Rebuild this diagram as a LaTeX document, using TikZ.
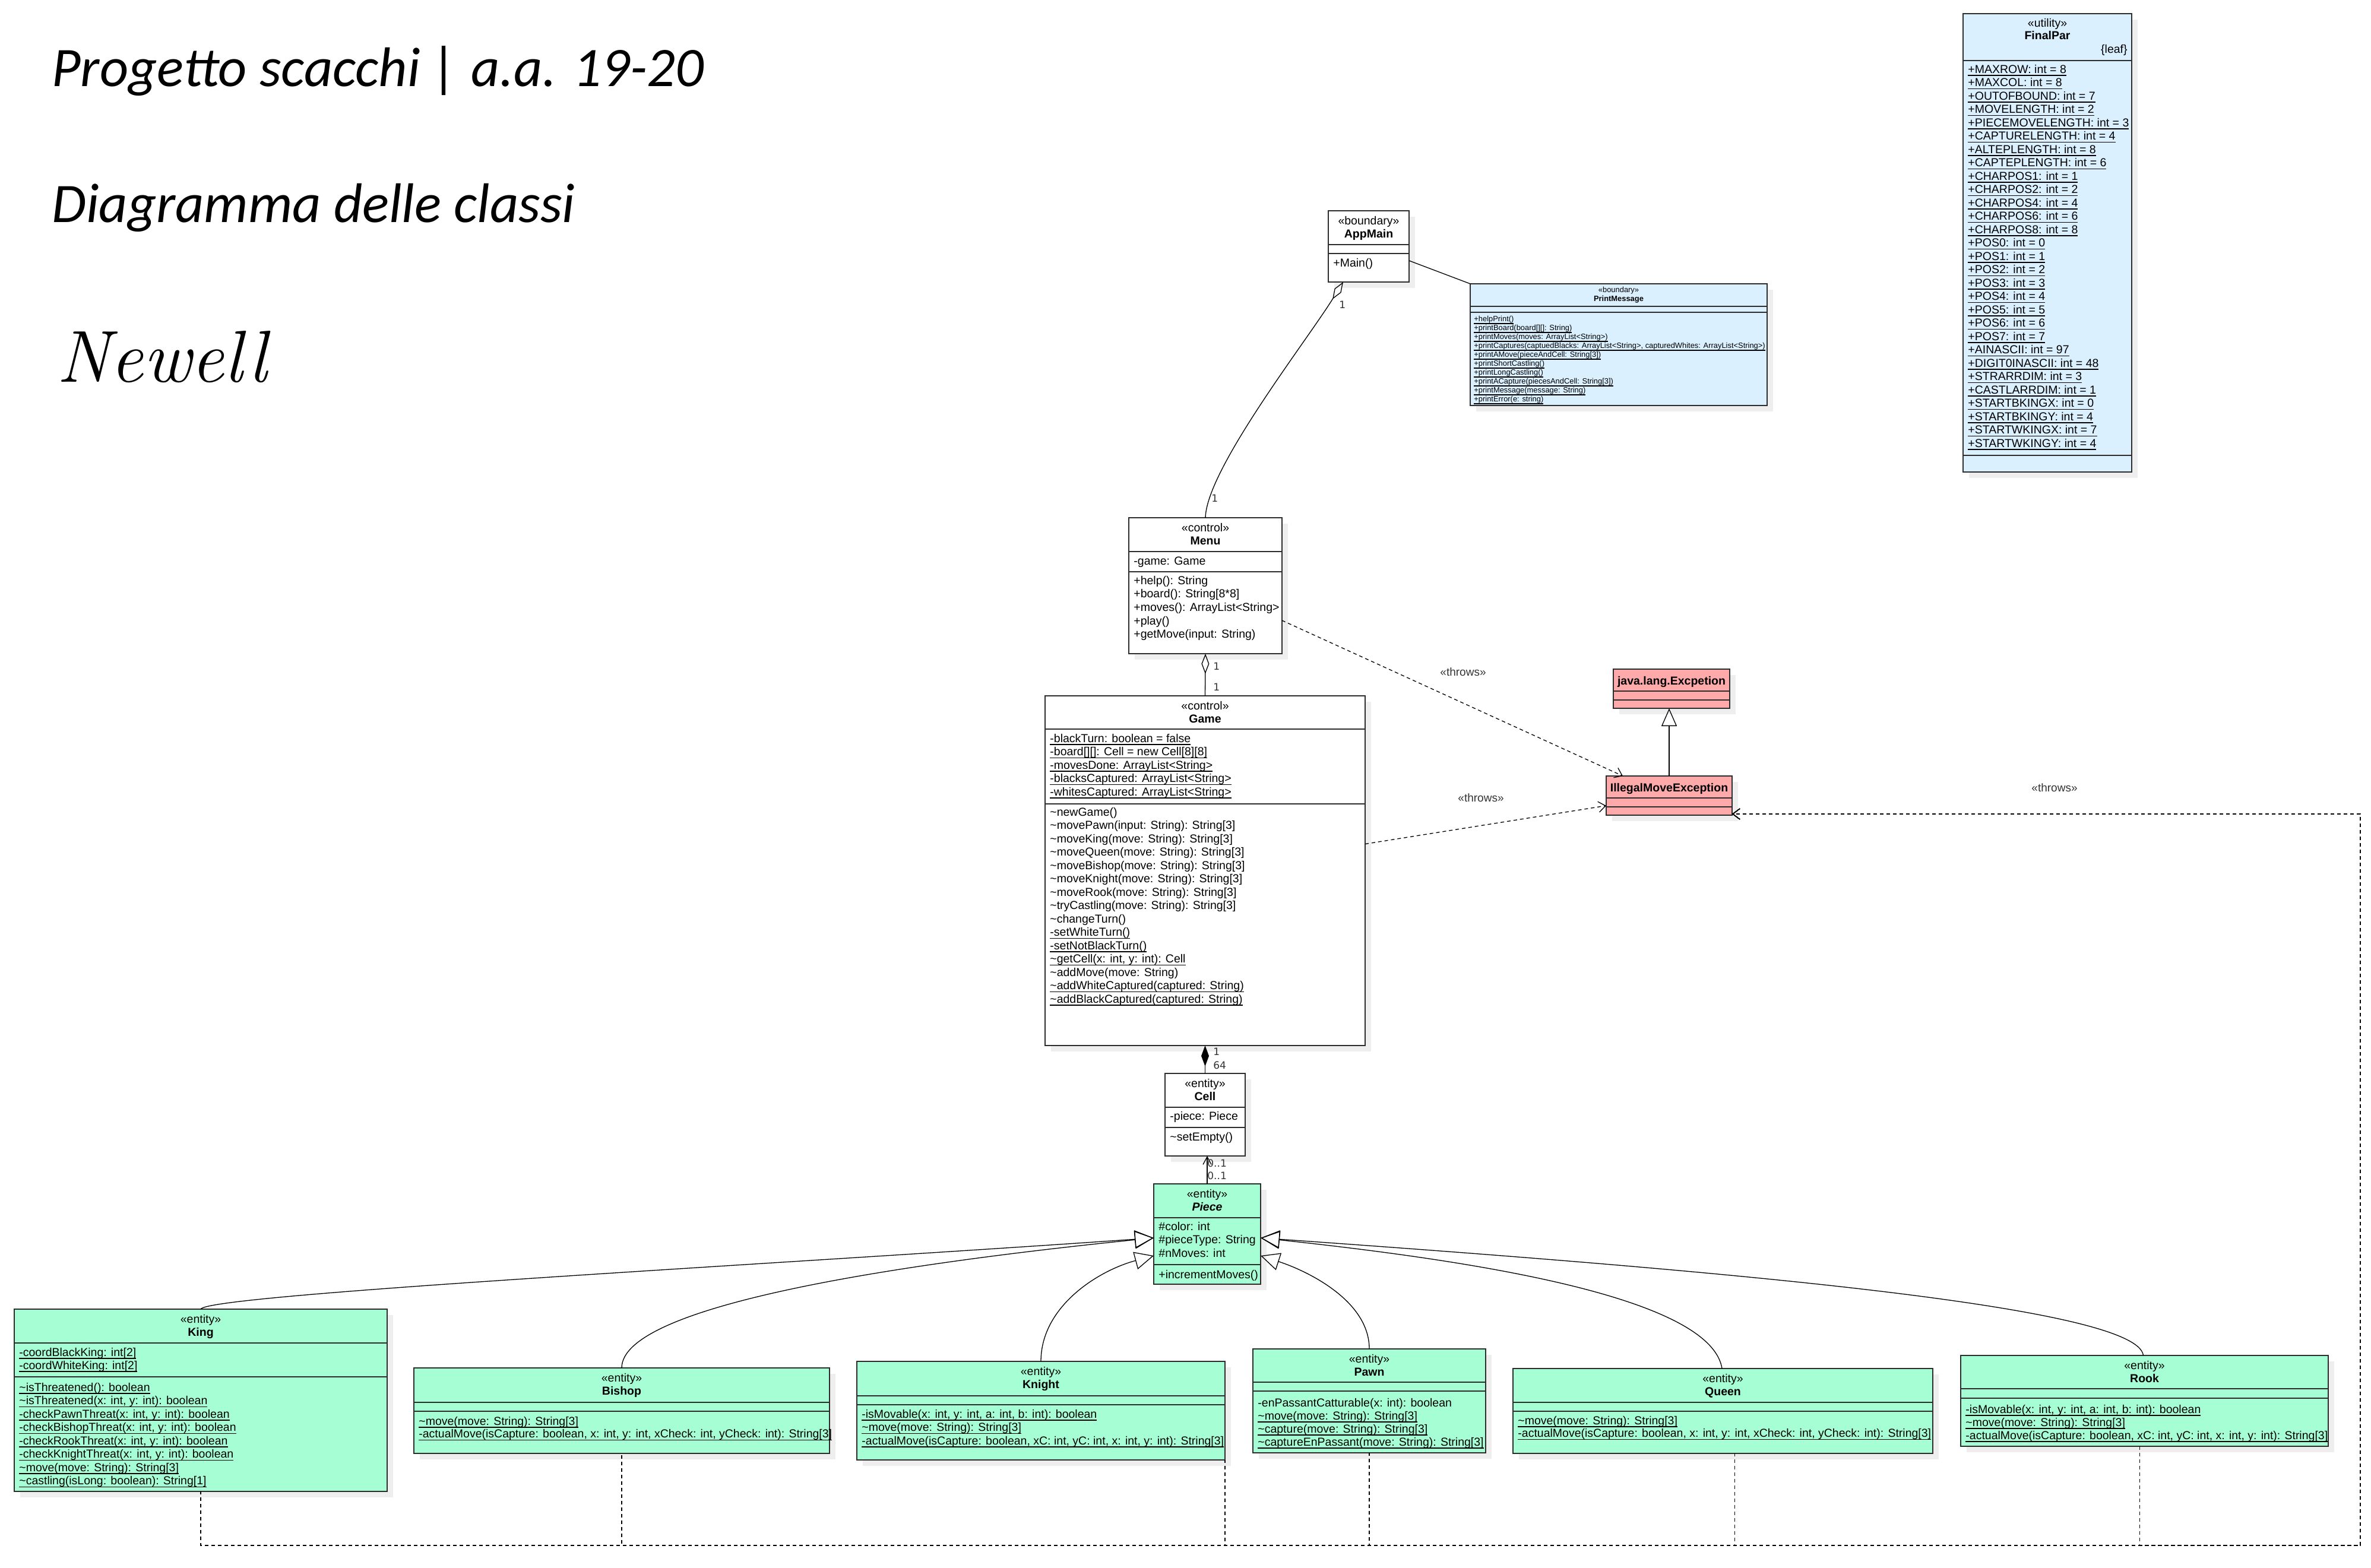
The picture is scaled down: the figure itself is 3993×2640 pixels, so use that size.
\documentclass[tikz,border=0pt]{standalone}
\usepackage{fontspec}
\usetikzlibrary{arrows.meta,calc}
\newfontfamily\lib{Liberation Sans}
\newfontfamily\dejavu{DejaVu Sans}
\newfontfamily\carl{Carlito}
\definecolor{entc}{RGB}{166,255,212}
\definecolor{bndc}{RGB}{218,240,255}
\definecolor{excc}{RGB}{255,170,170}
\definecolor{boxc}{RGB}{45,45,45}
\definecolor{shdc}{RGB}{238,238,238}
\newcommand\tld{\textasciitilde}
\newcommand\ulx[1]{\setbox0\hbox{#1}\rlap{\rule[-2.3pt]{\wd0}{0.6pt}}\box0}
\newcommand\umlbox[8]{%
  \fill[shdc] (#2+10,#3+10) rectangle ++(#4,#5);
  \node[box, fill=#6, minimum width=#4*0.5pt, minimum height=#5*0.5pt, anchor=north west] (#1) at (#2,#3) {};
  \draw[box] (#2,#7) -- ++(#4,0);
  \draw[box] (#2,#8) -- ++(#4,0);}
\newcommand\hdr[3]{%
  \node[stereo] (#1st) at ($(#1.north)+(0,23)$) {#2};
  \node[cname] (#1nm) at ($(#1.north)+(0,45)$) {#3};}
\newcommand\rowlist[6]{\foreach \ri [count=\ci from 0] in {#6}{\node[#1, anchor=base west] (#2\ci) at (#3,{#4+#5*\ci}) {\ri};}}
\begin{document}
\begin{tikzpicture}[x=0.5pt,y=-0.5pt,
  box/.style={draw=boxc, line width=0.9pt, inner sep=0pt, outer sep=0pt},
  rowtxt/.style={font=\lib\fontsize{9.75}{11.25}\selectfont, inner sep=0pt, text=black},
  smalltxt/.style={font=\lib\fontsize{6.45}{7.5}\selectfont, inner sep=0pt},
  stereo/.style={rowtxt, anchor=base},
  cname/.style={font=\lib\bfseries\fontsize{9.75}{11.25}\selectfont, inner sep=0pt, anchor=base},
  mult/.style={font=\dejavu\fontsize{8.5}{10}\selectfont, inner sep=0pt, anchor=base west, text=black!80},
  thr/.style={font=\lib\fontsize{9.5}{11}\selectfont, inner sep=0pt, anchor=base, text=black!80},
  conn/.style={line width=0.65pt, draw=black},
  dep/.style={conn, dash pattern=on 3pt off 2.5pt, -{Straight Barb[length=6pt,width=9pt]}},
  gen/.style={conn, -{Triangle[open,length=16pt,width=15pt]}},
  title/.style={font=\carl\itshape\fontsize{47}{50}\selectfont, inner sep=0pt, anchor=base west}]
\useasboundingbox (0,0) rectangle (3993,2640);
\fill[white] (0,0) rectangle (3993,2640);

% titles
\node[title] (t1) at (87,145) {Progetto scacchi | a.a. 19-20};
\node[title] (t2) at (87,374) {Diagramma delle classi};
\node[font=\normalfont\itshape\fontsize{62}{66}\selectfont, inner sep=0pt, anchor=base west] (t3) at (95,643) {Newell};

% AppMain
\umlbox{appmain}{2237}{355}{136}{120}{white}{412}{427}
\hdr{appmain}{«boundary»}{AppMain}
\rowlist{rowtxt}{appmainM}{2245}{449}{22.5}{+Main()}

% PrintMessage
\umlbox{printmsg}{2476}{478}{500}{205}{bndc}{516}{526}
\node[smalltxt, anchor=base] (printmsgst) at ($(printmsg.north)+(0,14)$) {«boundary»};
\node[smalltxt, font=\lib\bfseries\fontsize{6.45}{7.5}\selectfont, anchor=base] (printmsgnm) at ($(printmsg.north)+(0,29)$) {PrintMessage};
\rowlist{smalltxt}{printmsgM}{2482}{541}{15}{\ulx{+helpPrint()},\ulx{+printBoard(board[][]: String)},\ulx{+printMoves(moves: ArrayList<String>)},\ulx{+printCaptures(captuedBlacks: ArrayList<String>, capturedWhites: ArrayList<String>)},\ulx{+printAMove(pieceAndCell: String[3])},\ulx{+printShortCastling()},\ulx{+printLongCastling()},\ulx{+printACapture(piecesAndCell: String[3])},\ulx{+printMessage(message: String)},\ulx{+printError(e: string)}}

% FinalPar
\umlbox{finalpar}{3306}{23}{284}{772}{bndc}{102}{767}
\node[stereo] (finalparst) at ($(finalpar.north)+(0,22)$) {«utility»};
\node[cname] (finalparnm) at ($(finalpar.north)+(0,43)$) {FinalPar};
\node[rowtxt, anchor=base east] (finalparleaf) at (3583,89) {\{leaf\}};
\rowlist{rowtxt}{finalparA}{3314}{123}{22.5}{\ulx{+MAXROW: int = 8},\ulx{+MAXCOL: int = 8},\ulx{+OUTOFBOUND: int = 7},\ulx{+MOVELENGTH: int = 2},\ulx{+PIECEMOVELENGTH: int = 3},\ulx{+CAPTURELENGTH: int = 4},\ulx{+ALTEPLENGTH: int = 8},\ulx{+CAPTEPLENGTH: int = 6},\ulx{+CHARPOS1: int = 1},\ulx{+CHARPOS2: int = 2},\ulx{+CHARPOS4: int = 4},\ulx{+CHARPOS6: int = 6},\ulx{+CHARPOS8: int = 8},\ulx{+POS0: int = 0},\ulx{+POS1: int = 1},\ulx{+POS2: int = 2},\ulx{+POS3: int = 3},\ulx{+POS4: int = 4},\ulx{+POS5: int = 5},\ulx{+POS6: int = 6},\ulx{+POS7: int = 7},\ulx{+AINASCII: int = 97},\ulx{+DIGIT0INASCII: int = 48},\ulx{+STRARRDIM: int = 3},\ulx{+CASTLARRDIM: int = 1},\ulx{+STARTBKINGX: int = 0},\ulx{+STARTBKINGY: int = 4},\ulx{+STARTWKINGX: int = 7},\ulx{+STARTWKINGY: int = 4}}

% Menu
\umlbox{menu}{1901}{872}{258}{229}{white}{929}{963}
\hdr{menu}{«control»}{Menu}
\rowlist{rowtxt}{menuA}{1909}{951}{22.5}{-game: Game}
\rowlist{rowtxt}{menuM}{1909}{984}{22.7}{+help(): String,+board(): String[8*8],+moves(): ArrayList<String>,+play(),+getMove(input: String)}

% Game
\umlbox{game}{1760}{1172}{539}{589}{white}{1228}{1354}
\hdr{game}{«control»}{Game}
\rowlist{rowtxt}{gameA}{1768}{1250}{22.5}{\ulx{-blackTurn: boolean = false},\ulx{-board[][]: Cell = new Cell[8][8]},\ulx{-movesDone: ArrayList<String>},\ulx{-blacksCaptured: ArrayList<String>},\ulx{-whitesCaptured: ArrayList<String>}}
\rowlist{rowtxt}{gameM}{1768}{1374}{22.5}{\tld newGame(),\tld movePawn(input: String): String[3],\tld moveKing(move: String): String[3],\tld moveQueen(move: String): String[3],\tld moveBishop(move: String): String[3],\tld moveKnight(move: String): String[3],\tld moveRook(move: String): String[3],\tld tryCastling(move: String): String[3],\tld changeTurn(),\ulx{-setWhiteTurn()},\ulx{-setNotBlackTurn()},{\ulx{\tld getCell(x: int, y: int): Cell}},\tld addMove(move: String),\ulx{\tld addWhiteCaptured(captured: String)},\ulx{\tld addBlackCaptured(captured: String)}}

% Cell
\umlbox{cell}{1962}{1808}{135}{139}{white}{1865}{1899}
\hdr{cell}{«entity»}{Cell}
\rowlist{rowtxt}{cellA}{1970}{1886}{22.5}{-piece: Piece}
\rowlist{rowtxt}{cellM}{1970}{1921}{22.5}{\tld setEmpty()}

% Piece
\umlbox{piece}{1943}{1994}{180}{169}{entc}{2051}{2130}
\hdr{piece}{«entity»}{\itshape Piece}
\rowlist{rowtxt}{pieceA}{1951}{2072}{22.5}{\#color: int,\#pieceType: String,\#nMoves: int}
\rowlist{rowtxt}{pieceM}{1951}{2153}{22.5}{+incrementMoves()}

% Exceptions
\umlbox{excp}{2717}{1127}{196}{66}{excc}{1164}{1179}
\node[cname] (excpnm) at ($(excp.north)+(0,26)$) {java.lang.Excpetion};
\umlbox{illegal}{2705}{1307}{212}{66}{excc}{1344}{1359}
\node[cname] (illegalnm) at ($(illegal.north)+(0,26)$) {IllegalMoveException};

% King
\umlbox{king}{24}{2205}{628}{307}{entc}{2262}{2319}
\hdr{king}{«entity»}{King}
\rowlist{rowtxt}{kingA}{32}{2284}{22}{\ulx{-coordBlackKing: int[2]},\ulx{-coordWhiteKing: int[2]}}
\rowlist{rowtxt}{kingM}{32}{2343}{22.5}{\ulx{\tld isThreatened(): boolean},{\ulx{\tld isThreatened(x: int, y: int): boolean}},{\ulx{-checkPawnThreat(x: int, y: int): boolean}},{\ulx{-checkBishopThreat(x: int, y: int): boolean}},{\ulx{-checkRookThreat(x: int, y: int): boolean}},{\ulx{-checkKnightThreat(x: int, y: int): boolean}},\ulx{\tld move(move: String): String[3]},\ulx{\tld castling(isLong: boolean): String[1]}}

% Bishop
\umlbox{bishop}{697}{2304}{700}{144}{entc}{2362}{2377}
\hdr{bishop}{«entity»}{Bishop}
\rowlist{rowtxt}{bishopM}{705}{2400}{21.5}{\ulx{\tld move(move: String): String[3]},{\ulx{-actualMove(isCapture: boolean, x: int, y: int, xCheck: int, yCheck: int): String[3]}}}

% Knight
\umlbox{knight}{1443}{2293}{620}{166}{entc}{2351}{2366}
\hdr{knight}{«entity»}{Knight}
\rowlist{rowtxt}{knightM}{1451}{2388}{22.5}{{\ulx{-isMovable(x: int, y: int, a: int, b: int): boolean}},\ulx{\tld move(move: String): String[3]},{\ulx{-actualMove(isCapture: boolean, xC: int, yC: int, x: int, y: int): String[3]}}}

% Pawn
\umlbox{pawn}{2110}{2272}{392}{175}{entc}{2328}{2343}
\hdr{pawn}{«entity»}{Pawn}
\rowlist{rowtxt}{pawnM}{2118}{2369}{22}{-enPassantCatturable(x: int): boolean,\ulx{\tld move(move: String): String[3]},\ulx{\tld capture(move: String): String[3]},\ulx{\tld captureEnPassant(move: String): String[3]}}

% Queen
\umlbox{queen}{2548}{2305}{707}{143}{entc}{2362}{2377}
\hdr{queen}{«entity»}{Queen}
\rowlist{rowtxt}{queenM}{2556}{2399}{21.5}{\ulx{\tld move(move: String): String[3]},{\ulx{-actualMove(isCapture: boolean, x: int, y: int, xCheck: int, yCheck: int): String[3]}}}

% Rook
\umlbox{rook}{3302}{2283}{619}{153}{entc}{2339}{2355}
\hdr{rook}{«entity»}{Rook}
\rowlist{rowtxt}{rookM}{3310}{2380}{22}{{\ulx{-isMovable(x: int, y: int, a: int, b: int): boolean}},\ulx{\tld move(move: String): String[3]},{\ulx{-actualMove(isCapture: boolean, xC: int, yC: int, x: int, y: int): String[3]}}}

% ---------- connectors ----------
\draw[conn, {Diamond[open,length=17pt,width=6.5pt]}-] ([xshift=-21.5pt]appmain.south) .. controls (2200,575) and (2032,790) .. (menu.north);
\node[mult] (m1) at (2255,519) {1};
\node[mult] (m2) at (2040,845) {1};
\draw[conn] ([yshift=-12pt]appmain.east) -- (printmsg.north west);

\draw[conn, {Diamond[open,length=17pt,width=6.5pt]}-] (menu.south) -- (game.north);
\node[mult] (m3) at (2043,1128) {1};
\node[mult] (m4) at (2043,1163) {1};

\draw[conn, {Diamond[length=17.5pt,width=6.5pt]}-] (game.south) -- (cell.north);
\node[mult] (m5) at (2043,1777) {1};
\node[mult] (m6) at (2043,1800) {64};

\draw[conn, -{Straight Barb[length=6.5pt,width=7pt]}] (piece.north) -- (piece.north |- cell.south);
\node[mult] (m7) at (2033,1965) {0..1};
\node[mult] (m8) at (2033,1986) {0..1};

\draw[dep] ([yshift=-29.25pt]menu.east) -- ([xshift=-39pt]illegal.north);
\node[thr] (th1) at (2464,1138) {«throws»};
\draw[dep] ([yshift=22.5pt]game.east) -- ([yshift=-8.5pt]illegal.west);
\node[thr] (th2) at (2494,1350) {«throws»};

\draw[conn, -{Triangle[open,length=15pt,width=13pt]}] (illegal.north) -- (illegal.north |- excp.south);

% generalizations to Piece
\draw[gen] (king.north) .. controls (350,2180) and (1300,2130) .. ([yshift=-3.25pt]piece.west);
\draw[gen] (bishop.north) .. controls (1047,2200) and (1500,2130) .. ([yshift=-3.25pt]piece.west);
\draw[gen] (knight.north) .. controls (1753,2200) and (1850,2140) .. ([yshift=-18.25pt]piece.west);
\draw[gen] (pawn.north) .. controls (2306,2190) and (2200,2140) .. ([yshift=-18.25pt]piece.east);
\draw[gen] ([xshift=-0.75pt]queen.north) .. controls (2880,2180) and (2450,2120) .. ([yshift=-3.25pt]piece.east);
\draw[gen] ([xshift=-1pt]rook.north) .. controls (3600,2200) and (2900,2140) .. ([yshift=-3.25pt]piece.east);

% throws from pieces (dash phases aligned along the shared bottom line)
\coordinate (thrw) at ([yshift=1pt]illegal.south east);
\coordinate (rbc) at (3975,2603);
\draw[dep, dash phase=0.5pt] (king.south) -- (king.south |- rbc) -- (rbc) -- (rbc |- thrw) -- (thrw);
\draw[dep, dash phase=4pt] (bishop.south) -- (bishop.south |- rbc) -- (rbc) -- (rbc |- thrw) -- (thrw);
\draw[dep, dash phase=0.5pt] (knight.south east) -- (knight.south east |- rbc) -- (rbc) -- (rbc |- thrw) -- (thrw);
\draw[dep, dash phase=0.5pt] (pawn.south) -- (pawn.south |- rbc) -- (rbc) -- (rbc |- thrw) -- (thrw);
\draw[dep, dash phase=0.75pt] ([xshift=10pt]queen.south) -- ([xshift=10pt]queen.south |- rbc) -- (rbc) -- (rbc |- thrw) -- (thrw);
\draw[dep] ([xshift=-4pt]rook.south) -- ([xshift=-4pt]rook.south |- rbc) -- (rbc) -- (rbc |- thrw) -- (thrw);
\node[thr] (th3) at (3460,1333) {«throws»};
\end{tikzpicture}
\end{document}
